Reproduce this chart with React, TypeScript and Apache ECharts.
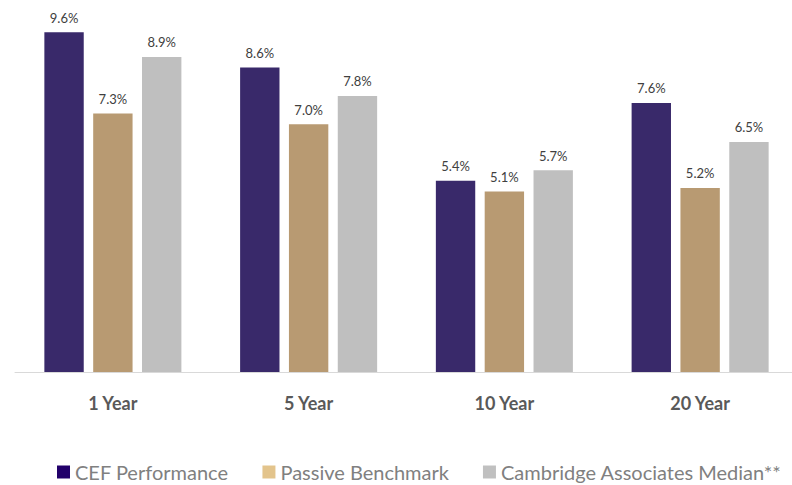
import React, { useEffect, useRef } from "react";
import * as echarts from "echarts";

const categories = ["1 Year", "5 Year", "10 Year", "20 Year"];
const seriesNames = ["CEF Performance", "Passive Benchmark", "Cambridge Associates Median**"];
const cefValues = [9.6, 8.6, 5.4, 7.6];
const passiveValues = [7.3, 7.0, 5.1, 5.2];
const cambridgeValues = [8.9, 7.8, 5.7, 6.5];
const barColors = ["#39296a", "#b89a72", "#bfbfbf"];
const legendColors = ["#22006a", "#e3c48c", "#c0c0c0"];

export default function App() {
  const ref = useRef<HTMLDivElement>(null);
  useEffect(() => {
    if (!ref.current) return;
    const chart = echarts.init(ref.current, null, { renderer: "svg" });
    const font = "Lato, 'Open Sans', sans-serif";
    const allValues = [cefValues, passiveValues, cambridgeValues];
    chart.setOption({
      animation: false,
      textStyle: { fontFamily: font },
      grid: { left: 15, top: 18, width: 783, height: 354 },
      legend: {
        top: 462,
        left: 57,
        padding: 0,
        itemWidth: 13,
        itemHeight: 13,
        itemGap: 34,
        icon: "rect",
        textStyle: { fontSize: 20, color: "#808080", fontFamily: font },
        data: seriesNames.map((n, i) => ({ name: n, itemStyle: { color: legendColors[i] } })),
      },
      xAxis: {
        type: "category",
        data: categories,
        axisLine: { lineStyle: { color: "#d9d9d9", width: 1 } },
        axisTick: { show: false },
        axisLabel: { fontSize: 18, fontWeight: "bold", color: "#595959", margin: 22, fontFamily: font },
      },
      yAxis: { type: "value", min: 0, max: 10, show: false, splitLine: { show: false } },
      series: seriesNames.map((n, i) => ({
        name: n,
        type: "bar",
        data: allValues[i],
        barGap: "24%",
        barCategoryGap: "30%",
        itemStyle: { color: barColors[i] },
        label: {
          show: true,
          position: "top",
          distance: 8,
          formatter: (p: any) => p.value.toFixed(1) + "%",
          fontSize: 13,
          color: "#404040",
          fontFamily: font,
        },
      })),
    });
    return () => chart.dispose();
  }, []);
  return (
    <div style={{ position: "absolute", left: 0, top: 0, width: 792, height: 485, overflow: "hidden" }}>
      <div ref={ref} style={{ width: 804, height: 485 }} />
    </div>
  );
}
